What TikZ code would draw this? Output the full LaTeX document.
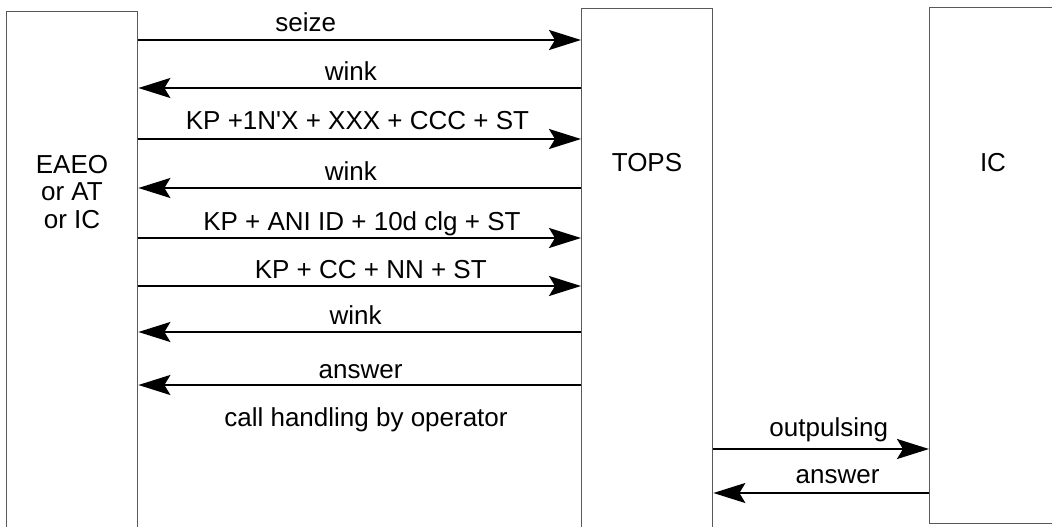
\documentclass[tikz,border=0pt]{standalone}
\usepackage{fontspec}
\setmainfont{Liberation Sans}
\usetikzlibrary{arrows.meta}
\tikzset{
  unit/.style={draw=black!65, line width=0.8pt, minimum width=2.62cm, anchor=north west, inner sep=0pt},
  msg/.style={line width=1.3pt, -{Stealth[length=6.4mm, width=4mm, inset=1.2mm]}},
  lbl/.style={anchor=base, inner sep=0pt}
}
\begin{document}
\begin{tikzpicture}[x=0.02cm, y=-0.02cm]\fontsize{14.8}{15.5}\selectfont
\useasboundingbox (0,0) rectangle (1052,527);
\clip (0,0) rectangle (1052,527);
% the three exchanges
\node[unit, minimum height=10.6cm] (eaeo) at (6,11) {};
\node[unit, minimum height=10.7cm] (tops) at (581,8) {};
\node[unit, minimum height=10.32cm] (ic) at (929,7) {};
\node[align=center] (eaeotxt) at (72,192) {EAEO\\or AT\\or IC};
\node (topstxt) at (647,163) {TOPS};
\node (ictxt) at (993,163) {IC};
% signalling between EAEO and TOPS
\draw[msg] (eaeo.east |- 0,40) -- (tops.west |- 0,40) node[lbl, pos=0.378, yshift=1.6mm] (seize) {seize};
\draw[msg] (tops.west |- 0,88) -- (eaeo.east |- 0,88) node[lbl, pos=0.52, yshift=1.6mm] (wink1) {wink};
\draw[msg] (eaeo.east |- 0,139) -- (tops.west |- 0,139) node[lbl, pos=0.495, yshift=1.9mm] (digits) {KP +1N\textquotesingle X + XXX + CCC + ST};
\draw[msg] (tops.west |- 0,188) -- (eaeo.east |- 0,188) node[lbl, pos=0.52, yshift=1.6mm] (wink2) {wink};
\draw[msg] (eaeo.east |- 0,238) -- (tops.west |- 0,238) node[lbl, pos=0.505, yshift=1.6mm] (ani) {KP + ANI ID + 10d clg + ST};
\draw[msg] (eaeo.east |- 0,286) -- (tops.west |- 0,286) node[lbl, pos=0.525, yshift=1.6mm] (ccnn) {KP + CC + NN + ST};
\draw[msg] (tops.west |- 0,332) -- (eaeo.east |- 0,332) node[lbl, pos=0.509, yshift=1.6mm] (wink3) {wink};
\draw[msg] (tops.west |- 0,385) -- (eaeo.east |- 0,385) node[lbl, pos=0.498, yshift=1.4mm] (answer1) {answer};
\node[lbl] (oper) at (366,426) {call handling by operator};
% TOPS towards IC
\draw[msg] (tops.east |- 0,449) -- (ic.west |- 0,449) node[lbl, pos=0.535, yshift=2.6mm] (outp) {outpulsing};
\draw[msg] (ic.west |- 0,493) -- (tops.east |- 0,493) node[lbl, pos=0.424, yshift=2mm] (answer2) {answer};
\end{tikzpicture}
\end{document}
